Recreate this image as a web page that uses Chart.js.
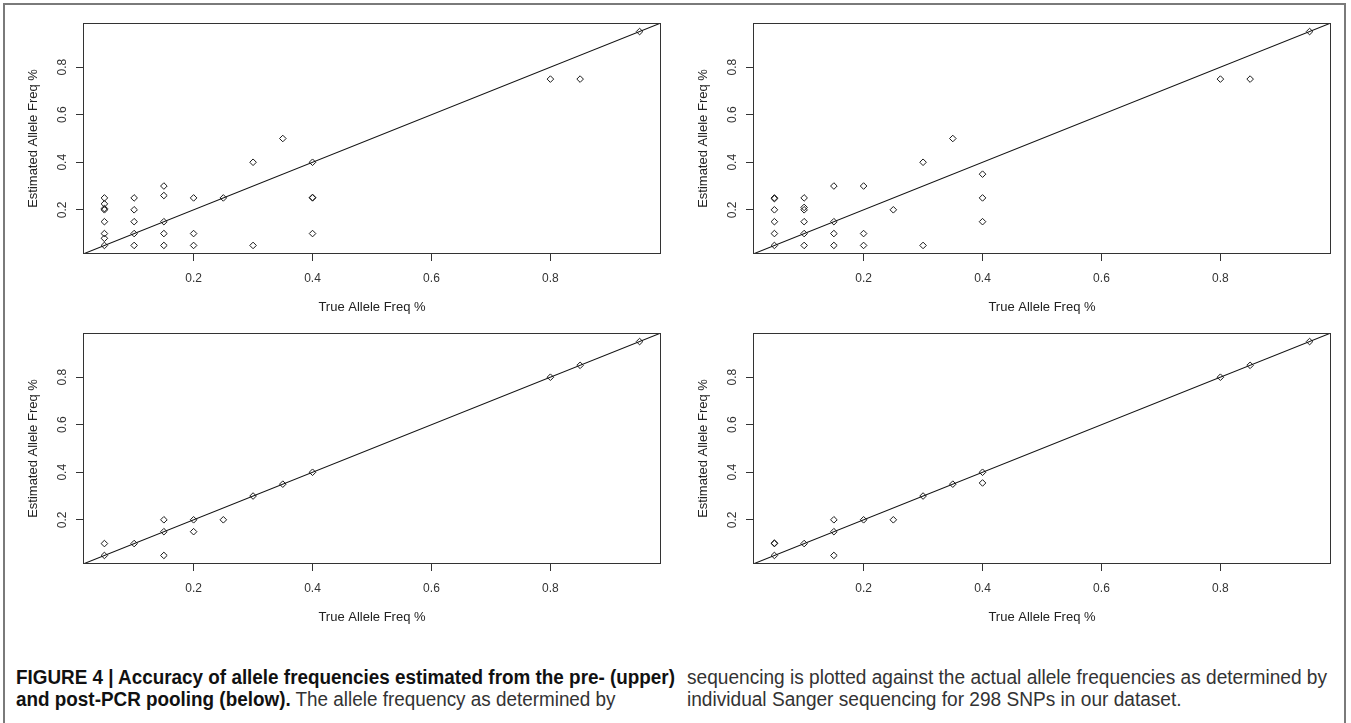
<!DOCTYPE html>
<html>
<head>
<meta charset="utf-8">
<script src="https://cdn.jsdelivr.net/npm/chart.js@4.4.1/dist/chart.umd.min.js"></script>
<style>
  html, body { margin: 0; padding: 0; background: #fff; }
  body { width: 1351px; height: 723px; position: relative; overflow: hidden; font-family: "Liberation Sans", Arial, sans-serif; }
  .frame { position: absolute; left: 3px; top: 3px; width: 1343px; height: 800px; box-sizing: border-box; border: 2px solid #7a7a7a; }
  .panel { position: absolute; width: 680px; height: 330px; }
  .caption { position: absolute; top: 666px; font-family: "Liberation Sans Narrow", "Liberation Sans", Arial, sans-serif; font-size: 19.5px; line-height: 22px; color: #333; white-space: nowrap; }
  .caption .line { transform-origin: 0 0; }
  .caption b { color: #111; }
</style>
</head>
<body>
<div class="frame"></div>
<div class="panel" style="left:0;top:0"><canvas id="chartA" width="680" height="330"></canvas></div>
<div class="panel" style="left:670px;top:0"><canvas id="chartB" width="680" height="330"></canvas></div>
<div class="panel" style="left:0;top:310px"><canvas id="chartC" width="680" height="330"></canvas></div>
<div class="panel" style="left:670px;top:310px"><canvas id="chartD" width="680" height="330"></canvas></div>

<div class="caption" id="capL" style="left:16px">
  <div class="line"><span><b>FIGURE 4 | Accuracy of allele frequencies estimated from the pre- (upper)</b></span></div>
  <div class="line"><span><b>and post-PCR pooling (below).</b> The allele frequency as determined by</span></div>
</div>
<div class="caption" id="capR" style="left:687px">
  <div class="line"><span>sequencing is plotted against the actual allele frequencies as determined by</span></div>
  <div class="line"><span>individual Sanger sequencing for 298 SNPs in our dataset.</span></div>
</div>

<script>
// axis settings shared by the four panels
const axisMin = 0.014;
const axisMax = 0.986;
const tickValues = [0.2, 0.4, 0.6, 0.8];
const xTitle = 'True Allele Freq %';
const yTitle = 'Estimated Allele Freq %';
const diagonal = [0, 1];

// top left: pre-PCR pooling
const trueA = [0.05, 0.05, 0.05, 0.05, 0.05, 0.05, 0.05, 0.05,
               0.1, 0.1, 0.1, 0.1, 0.1,
               0.15, 0.15, 0.15, 0.15, 0.15,
               0.2, 0.2, 0.2, 0.25, 0.3, 0.3, 0.35,
               0.4, 0.4, 0.4, 0.4, 0.8, 0.85, 0.95];
const estA  = [0.25, 0.225, 0.2, 0.205, 0.15, 0.1, 0.08, 0.05,
               0.25, 0.2, 0.15, 0.1, 0.05,
               0.3, 0.26, 0.15, 0.1, 0.05,
               0.25, 0.1, 0.05, 0.25, 0.4, 0.05, 0.5,
               0.4, 0.25, 0.252, 0.1, 0.75, 0.75, 0.95];

// top right: pre-PCR pooling
const trueB = [0.05, 0.05, 0.05, 0.05, 0.05, 0.05,
               0.1, 0.1, 0.1, 0.1, 0.1, 0.1,
               0.15, 0.15, 0.15, 0.15,
               0.2, 0.2, 0.2, 0.25, 0.3, 0.3, 0.35,
               0.4, 0.4, 0.4, 0.8, 0.85, 0.95];
const estB  = [0.25, 0.247, 0.2, 0.15, 0.1, 0.05,
               0.25, 0.21, 0.2, 0.15, 0.1, 0.05,
               0.3, 0.15, 0.1, 0.05,
               0.3, 0.1, 0.05, 0.2, 0.4, 0.05, 0.5,
               0.35, 0.25, 0.15, 0.75, 0.75, 0.95];

// bottom left: post-PCR pooling
const trueC = [0.05, 0.05, 0.1, 0.15, 0.15, 0.15, 0.2, 0.2, 0.25, 0.3, 0.35, 0.4, 0.8, 0.85, 0.95];
const estC  = [0.1, 0.05, 0.1, 0.2, 0.15, 0.05, 0.2, 0.15, 0.2, 0.3, 0.35, 0.4, 0.8, 0.85, 0.95];

// bottom right: post-PCR pooling
const trueD = [0.05, 0.05, 0.05, 0.1, 0.15, 0.15, 0.15, 0.2, 0.25, 0.3, 0.35, 0.4, 0.4, 0.8, 0.85, 0.95];
const estD  = [0.1, 0.102, 0.05, 0.1, 0.2, 0.15, 0.05, 0.2, 0.2, 0.3, 0.35, 0.4, 0.355, 0.8, 0.85, 0.95];

function toPoints(xs, ys) {
  return xs.map((x, i) => ({ x: x, y: ys[i] }));
}

// R style box round the plot region
const boxPlugin = {
  id: 'box',
  afterDraw(chart) {
    const a = chart.chartArea;
    const ctx = chart.ctx;
    ctx.save();
    ctx.strokeStyle = '#333';
    ctx.lineWidth = 1;
    ctx.strokeRect(a.left + 0.5, a.top + 0.5, a.right - a.left - 1, a.bottom - a.top - 1);
    ctx.restore();
  }
};

function makeAxis(isX) {
  return {
    type: 'linear',
    min: axisMin,
    max: axisMax,
    afterBuildTicks: s => { s.ticks = tickValues.map(v => ({ value: v })); },
    afterFit: s => { if (isX) s.height = 76; else s.width = 83; },
    border: { display: false },
    grid: { drawOnChartArea: false, drawTicks: true, tickLength: 7, color: '#333', tickColor: '#333', tickWidth: 1 },
    ticks: {
      autoSkip: false,
      color: '#333',
      font: { family: '"Liberation Sans", Arial, sans-serif', size: 12 },
      padding: isX ? 10 : 5,
      minRotation: isX ? 0 : 90,
      maxRotation: isX ? 0 : 90,
      crossAlign: isX ? 'near' : 'center',
      callback: v => String(v)
    },
    title: {
      display: true,
      text: isX ? xTitle : yTitle,
      color: '#222',
      font: { family: '"Liberation Sans", Arial, sans-serif', size: 13 },
      padding: isX ? { top: 0, bottom: 15 } : { top: 26, bottom: 0 }
    }
  };
}

function makePanel(id, xs, ys) {
  new Chart(document.getElementById(id), {
    type: 'scatter',
    data: {
      datasets: [
        {
          type: 'line',
          data: toPoints(diagonal, diagonal),
          borderColor: '#111',
          borderWidth: 1.1,
          pointRadius: 0,
          fill: false
        },
        {
          data: toPoints(xs, ys),
          pointStyle: 'rectRot',
          pointRadius: 3.3,
          pointBorderWidth: 1,
          pointBorderColor: '#1a1a1a',
          pointBackgroundColor: 'rgba(0,0,0,0)'
        }
      ]
    },
    options: {
      responsive: false,
      animation: false,
      devicePixelRatio: 1,
      layout: { padding: { top: 23, right: 19, left: 0, bottom: 0 } },
      plugins: { legend: { display: false }, tooltip: { enabled: false } },
      scales: { x: makeAxis(true), y: makeAxis(false) }
    },
    plugins: [boxPlugin]
  });
}

makePanel('chartA', trueA, estA);
makePanel('chartB', trueB, estB);
makePanel('chartC', trueC, estC);
makePanel('chartD', trueD, estD);

// squeeze each caption column to the width of its first line
function fitCaption(id, width) {
  const lines = document.querySelectorAll('#' + id + ' .line');
  const w = lines[0].querySelector('span').getBoundingClientRect().width;
  const k = width / w;
  lines.forEach(l => { l.style.transform = 'scaleX(' + k + ')'; });
}
fitCaption('capL', 659);
fitCaption('capR', 640);
</script>
</body>
</html>
